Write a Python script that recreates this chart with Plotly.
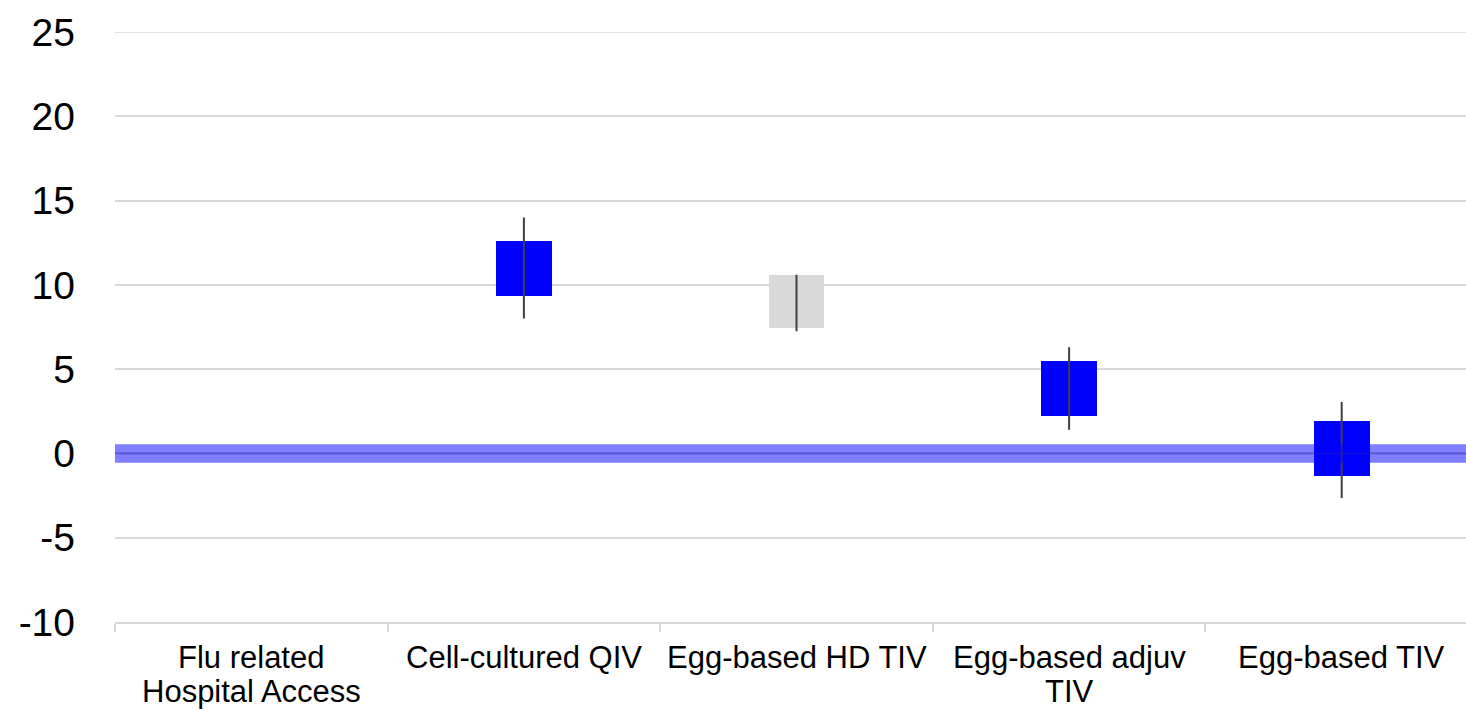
import plotly.graph_objects as go

categories = ["Flu related<br>Hospital Access", "Cell-cultured QIV", "Egg-based HD TIV",
              "Egg-based adjuv<br>TIV", "Egg-based TIV"]
box_low = [None, 9.35, 7.45, 2.25, -1.35]
box_high = [None, 12.6, 10.6, 5.5, 1.9]
whisker_low = [None, 8.0, 7.25, 1.4, -2.65]
whisker_high = [None, 14.0, 10.6, 6.3, 3.05]
box_colors = ["#0000FF", "#0000FF", "#D9D9D9", "#0000FF", "#0000FF"]
band_half = 0.55
y_ticks = [-10, -5, 0, 5, 10, 15, 20, 25]
y_tick_text = ["-10", "-5", "0", "5", "10", "15", "20", "25"]

FONT = "Liberation Sans, Arial, sans-serif"

fig = go.Figure()

bx, by, bb, bc = [], [], [], []
for c, lo, hi, col in zip(categories, box_low, box_high, box_colors):
    if lo is None:
        continue
    bx.append(c); by.append(hi - lo); bb.append(lo); bc.append(col)
fig.add_trace(go.Bar(x=bx, y=by, base=bb, marker=dict(color=bc, line=dict(width=0)),
                     width=0.205, showlegend=False, hoverinfo="skip"))

wx, wy = [], []
for c, lo, hi in zip(categories, whisker_low, whisker_high):
    if lo is None:
        continue
    wx += [c, c, None]; wy += [lo, hi, None]
fig.add_trace(go.Scatter(x=wx, y=wy, mode="lines", line=dict(color="#404040", width=2),
                         showlegend=False, hoverinfo="skip"))

# top gridline (at the range edge)
fig.add_shape(type="line", xref="paper", yref="y", x0=0, x1=1, y0=y_ticks[-1], y1=y_ticks[-1],
              line=dict(color="#D9D9D9", width=1.5), layer="below")

fig.add_shape(type="rect", xref="paper", yref="y", x0=0, x1=1, y0=-band_half, y1=band_half,
              fillcolor="rgba(0,0,255,0.5)", line=dict(width=0), layer="above")
fig.add_shape(type="line", xref="paper", yref="y", x0=0, x1=1, y0=0, y1=0,
              line=dict(color="rgba(40,40,170,0.3)", width=2), layer="above")

# category labels (tight line spacing like the reference)
for c in categories:
    for i, line in enumerate(c.split("<br>")):
        fig.add_annotation(x=c, xref="x", y=0, yref="paper", text=line, showarrow=False,
                           xanchor="center", yanchor="middle",
                           yshift=-35 - 34 * i, font=dict(size=31, family=FONT, color="black"))

fig.update_layout(
    width=1466, height=710,
    margin=dict(l=115, r=0, t=32, b=88),
    plot_bgcolor="white", paper_bgcolor="white",
    font=dict(family=FONT, color="black"),
    xaxis=dict(type="category", categoryorder="array", categoryarray=categories,
               range=[-0.5, 4.456], showticklabels=False, ticks="outside",
               tickson="boundaries", ticklen=8, tickcolor="#D9D9D9", tickwidth=1.5,
               showline=True, linecolor="#D9D9D9", linewidth=1.5, showgrid=False),
    yaxis=dict(range=[-10, 25], tickvals=y_ticks, ticktext=y_tick_text,
               tickfont=dict(size=39), showgrid=True, gridcolor="#D9D9D9",
               gridwidth=1.5, zeroline=False, ticklabelstandoff=39),
    bargap=0,
)

fig.write_html("out.html", config={"displayModeBar": False},
               post_script="document.body.style.margin='0';document.body.style.overflow='hidden';")
